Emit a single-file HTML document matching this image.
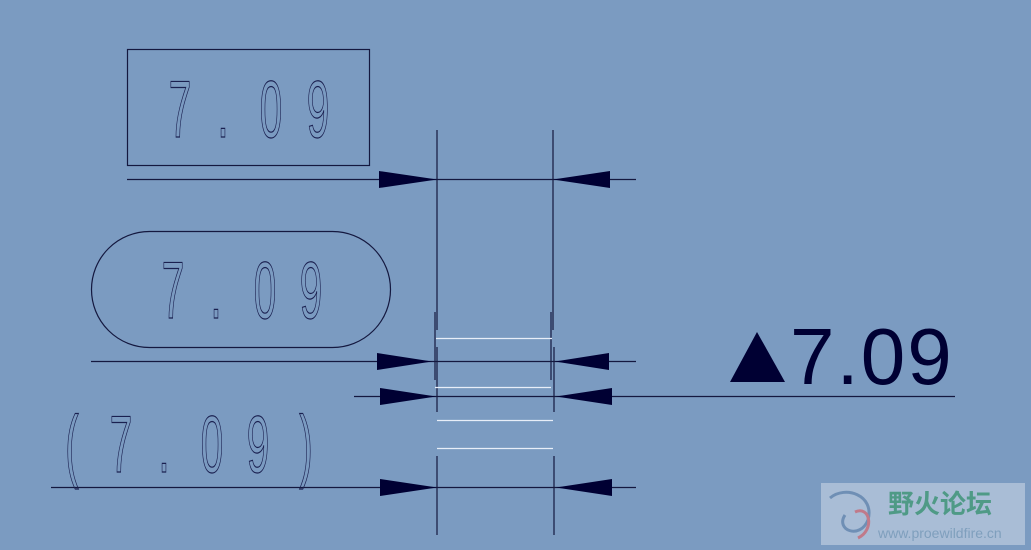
<!DOCTYPE html>
<html><head><meta charset="utf-8"><style>
html,body{margin:0;padding:0;background:#7b9bc1;}
svg{display:block}
.d{font-family:"Liberation Sans",sans-serif;font-size:81px;fill:none;stroke:#1a2050;stroke-width:1.2px;text-anchor:middle}
</style></head><body>
<svg width="1031" height="550" viewBox="0 0 1031 550" xmlns="http://www.w3.org/2000/svg">
<rect width="1031" height="550" fill="#7b9bc1"/>
<g stroke="#14183f" stroke-width="1.2" fill="none">
<rect x="127.5" y="49.5" width="242" height="116"/>
<rect x="91.5" y="231.5" width="299" height="116" rx="58" ry="58"/>
<line x1="127" y1="179.5" x2="636" y2="179.5"/>
<line x1="91" y1="361.5" x2="636" y2="361.5"/>
<line x1="354" y1="396.5" x2="955" y2="396.5"/>
<line x1="51" y1="487.5" x2="636" y2="487.5"/>
<line x1="437" y1="130" x2="437" y2="330"/>
<line x1="553" y1="130" x2="553" y2="330"/>
<line x1="435" y1="312" x2="435" y2="380"/>
<line x1="551" y1="312" x2="551" y2="380"/>
<line x1="437" y1="347" x2="437" y2="412"/>
<line x1="554" y1="347" x2="554" y2="412"/>
<line x1="437" y1="456" x2="437" y2="535"/>
<line x1="554" y1="456" x2="554" y2="535"/>
</g>
<g stroke="#e8eef8" stroke-width="1.3">
<line x1="436" y1="338.5" x2="552" y2="338.5"/>
<line x1="435" y1="387.5" x2="551" y2="387.5"/>
<line x1="437" y1="420.5" x2="553" y2="420.5"/>
<line x1="437" y1="448.5" x2="553" y2="448.5"/>
</g>
<g fill="#000033">
<polygon points="379,171 437,179.5 379,188"/>
<polygon points="610,171 553,179.5 610,188"/>
<polygon points="377,353 432,361.5 377,370"/>
<polygon points="609,353 555,361.5 609,370"/>
<polygon points="380,388 436,396.5 380,405"/>
<polygon points="612,388 556,396.5 612,405"/>
<polygon points="380,479 437,487.5 380,496"/>
<polygon points="612,479 556,487.5 612,496"/>
<polygon points="730,382 757,332 785,382"/>
</g>
<text x="790" y="384" font-family="Liberation Sans,sans-serif" font-size="80" letter-spacing="2" fill="#000033">7.09</text>
<g class="d">
<text transform="translate(180,137) scale(0.5,1)">7</text>
<text transform="translate(223,137) scale(0.5,1)">.</text>
<text transform="translate(271,137) scale(0.5,1)">0</text>
<text transform="translate(318,137) scale(0.5,1)">9</text>
<text transform="translate(173,318) scale(0.5,1)">7</text>
<text transform="translate(216,318) scale(0.5,1)">.</text>
<text transform="translate(265,318) scale(0.5,1)">0</text>
<text transform="translate(311,318) scale(0.5,1)">9</text>
<text transform="translate(72,472) scale(0.5,1)">(</text>
<text transform="translate(121,472) scale(0.5,1)">7</text>
<text transform="translate(164,472) scale(0.5,1)">.</text>
<text transform="translate(212,472) scale(0.5,1)">0</text>
<text transform="translate(258,472) scale(0.5,1)">9</text>
<text transform="translate(306,472) scale(0.5,1)">)</text>
</g>
<rect x="821" y="483" width="204" height="62" fill="#a9bdd6"/>
<path d="M830,498 C845,485 875,495 868,520 C860,540 835,530 845,515" fill="none" stroke="#6f8fb5" stroke-width="3"/>
<path d="M855,512 C870,505 875,530 858,538" fill="none" stroke="#c07a8a" stroke-width="3"/>
<text x="888" y="513" font-family="Noto Sans CJK SC,sans-serif" font-size="26" font-weight="bold" fill="#4f9a86">野火论坛</text>
<text x="878" y="538" font-family="Liberation Sans,sans-serif" font-size="14" fill="#7f9fbd">www.proewildfire.cn</text>
</svg>
</body></html>
